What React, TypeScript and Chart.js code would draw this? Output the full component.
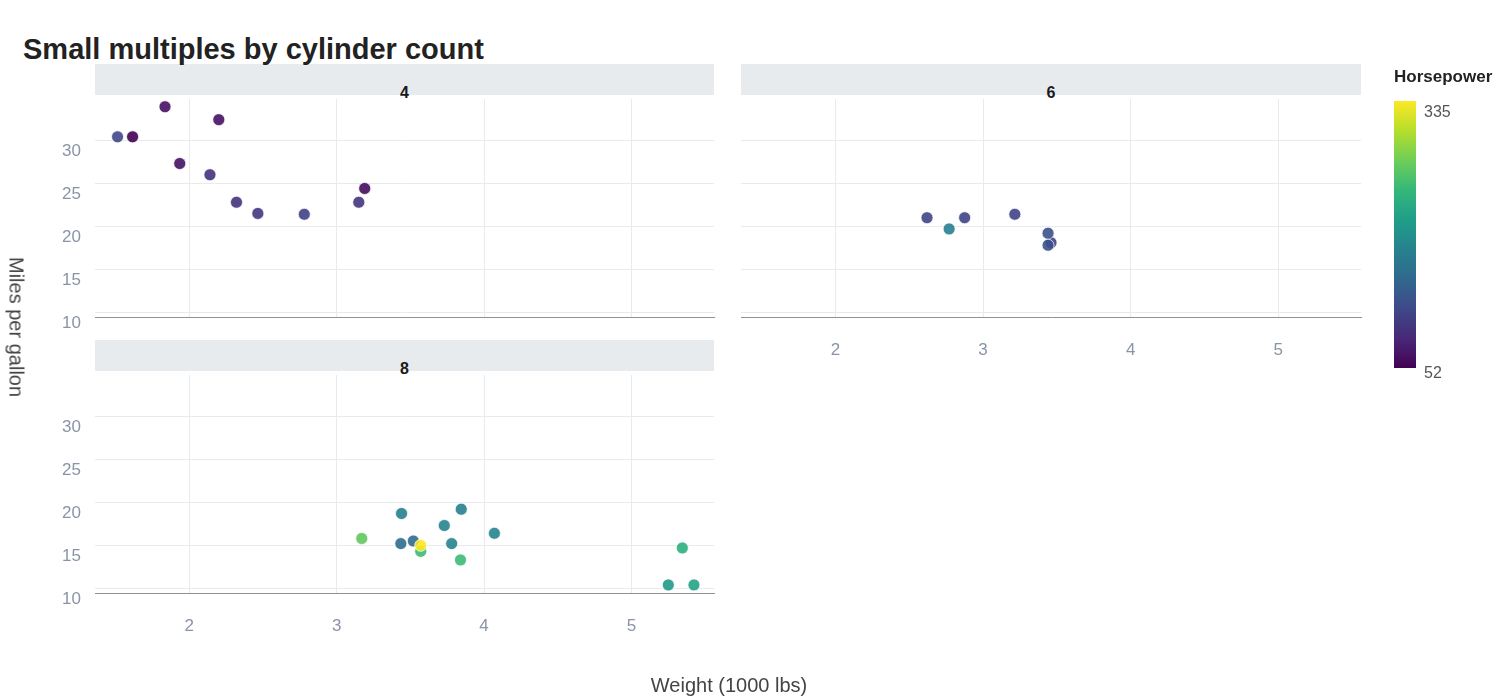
import { useEffect, useRef } from 'react';
import { Chart, registerables } from 'chart.js';

Chart.register(...registerables);

// mtcars, split by cylinder count
const wt4 = [2.32, 3.19, 3.15, 2.2, 1.615, 1.835, 2.465, 1.935, 2.14, 1.513, 2.78];
const mpg4 = [22.8, 24.4, 22.8, 32.4, 30.4, 33.9, 21.5, 27.3, 26.0, 30.4, 21.4];
const hp4 = [93, 62, 95, 66, 52, 65, 97, 66, 91, 113, 109];

const wt6 = [2.62, 2.875, 3.215, 3.46, 3.44, 3.44, 2.77];
const mpg6 = [21.0, 21.0, 21.4, 18.1, 19.2, 17.8, 19.7];
const hp6 = [110, 110, 110, 105, 123, 123, 175];

const wt8 = [3.44, 3.57, 4.07, 3.73, 3.78, 5.25, 5.424, 5.345, 3.52, 3.435, 3.84, 3.845, 3.17, 3.57];
const mpg8 = [18.7, 14.3, 16.4, 17.3, 15.2, 10.4, 10.4, 14.7, 15.5, 15.2, 13.3, 19.2, 15.8, 15.0];
const hp8 = [175, 245, 180, 180, 180, 205, 215, 230, 150, 150, 245, 175, 264, 335];

const HP_MIN = 52;
const HP_MAX = 335;

const VIRIDIS = ['#440154', '#482878', '#3e4989', '#31688e', '#26828e', '#1f9e89', '#35b779', '#6ece58', '#b5de2b', '#fde725'];

function hex(c: string) {
  return [1, 3, 5].map(i => parseInt(c.slice(i, i + 2), 16));
}

function viridis(t: number, alpha = 0.9) {
  const s = Math.max(0, Math.min(1, t)) * (VIRIDIS.length - 1);
  const i = Math.min(VIRIDIS.length - 2, Math.floor(s));
  const f = s - i;
  const a = hex(VIRIDIS[i]);
  const b = hex(VIRIDIS[i + 1]);
  const m = a.map((v, k) => Math.round(v + (b[k] - v) * f));
  return `rgba(${m[0]},${m[1]},${m[2]},${alpha})`;
}

const FONT = '"Liberation Sans", Arial, sans-serif';
const W = 1500;
const H = 700;
const Y_AXIS_W = 60;
const X_AXIS_H = 50;

type Panel = {
  wt: number[];
  mpg: number[];
  hp: number[];
  left: number;
  top: number;
  right: number;
  bottom: number;
  showX: boolean;
  showY: boolean;
};

function PanelChart(p: Panel) {
  const canvasRef = useRef<HTMLCanvasElement>(null);
  const chartRef = useRef<Chart | null>(null);

  useEffect(() => {
    if (!canvasRef.current) return;
    if (chartRef.current) chartRef.current.destroy();

    const ctx = canvasRef.current.getContext('2d')!;
    const yW = p.showY ? Y_AXIS_W : 0;

    chartRef.current = new Chart(ctx, {
      type: 'scatter',
      data: {
        datasets: [
          {
            data: p.wt.map((x, i) => ({ x, y: p.mpg[i] })),
            pointRadius: 6,
            pointBackgroundColor: p.hp.map(h => viridis((h - HP_MIN) / (HP_MAX - HP_MIN))),
            pointBorderColor: 'rgba(255,255,255,0.7)',
            pointBorderWidth: 1,
          },
        ],
      },
      options: {
        animation: false,
        responsive: false,
        events: [],
        layout: {
          padding: {
            left: p.left - yW,
            top: p.top,
            right: W - p.right,
            bottom: H - p.bottom - X_AXIS_H,
          },
        },
        plugins: { legend: { display: false }, tooltip: { enabled: false } },
        scales: {
          x: {
            type: 'linear',
            min: 1.36,
            max: 5.56,
            afterFit: (s: any) => {
              s.height = X_AXIS_H;
              s.paddingLeft = 0;
              s.paddingRight = 0;
            },
            grid: { color: '#e8ebee', drawTicks: false },
            border: { display: true, color: '#8f9295', width: 1 },
            ticks: {
              display: p.showX,
              stepSize: 1,
              includeBounds: false,
              padding: 23,
              color: '#8a94a6',
              font: { family: FONT, size: 17 },
            },
          },
          y: {
            type: 'linear',
            min: 9.46,
            max: 34.8,
            afterFit: (s: any) => {
              s.width = yW;
              s.paddingTop = 0;
              s.paddingBottom = 0;
            },
            grid: { color: '#e8ebee', drawTicks: false },
            border: { display: false },
            ticks: {
              display: p.showY,
              stepSize: 5,
              includeBounds: false,
              padding: 14,
              labelOffset: 11,
              color: '#8a94a6',
              font: { family: FONT, size: 17 },
            },
          },
        },
      },
    });

    return () => chartRef.current?.destroy();
  }, [p]);

  return (
    <canvas
      ref={canvasRef}
      width={W}
      height={H}
      style={{ position: 'absolute', left: 0, top: 0, width: W, height: H }}
    />
  );
}

const panels: (Panel & { label: string; stripTop: number })[] = [
  { label: '4', wt: wt4, mpg: mpg4, hp: hp4, left: 95, right: 714, top: 99, bottom: 317, stripTop: 64, showX: false, showY: true },
  { label: '6', wt: wt6, mpg: mpg6, hp: hp6, left: 741, right: 1361, top: 99, bottom: 317, stripTop: 64, showX: true, showY: false },
  { label: '8', wt: wt8, mpg: mpg8, hp: hp8, left: 95, right: 714, top: 375, bottom: 593, stripTop: 340, showX: true, showY: true },
];

export default function App() {
  const gradient = `linear-gradient(to top, ${VIRIDIS.join(', ')})`;
  return (
    <div
      style={{
        position: 'fixed',
        left: 0,
        top: 0,
        width: W,
        height: H,
        background: '#fff',
        fontFamily: FONT,
        overflow: 'hidden',
      }}
    >
      {panels.map(p => (
        <div
          key={'strip' + p.label}
          style={{
            position: 'absolute',
            left: p.left,
            top: p.stripTop,
            width: p.right - p.left,
            height: 31,
            background: '#e8ebee',
          }}
        >
          <div
            style={{
              position: 'absolute',
              left: 0,
              right: 0,
              top: 20,
              textAlign: 'center',
              fontSize: 16,
              fontWeight: 700,
              color: '#1a1a1a',
              lineHeight: '18px',
            }}
          >
            {p.label}
          </div>
        </div>
      ))}

      <div style={{ position: 'absolute', left: 23, top: 32, fontSize: 29, fontWeight: 700, color: '#222', lineHeight: '34px' }}>
        Small multiples by cylinder count
      </div>

      {panels.map(p => (
        <PanelChart key={'chart' + p.label} {...p} />
      ))}

      <div
        style={{
          position: 'absolute',
          left: 16,
          top: 327,
          transform: 'translate(-50%, -50%) rotate(90deg)',
          fontSize: 20,
          color: '#444',
          whiteSpace: 'nowrap',
        }}
      >
        Miles per gallon
      </div>
      <div
        style={{
          position: 'absolute',
          left: 729,
          top: 685,
          transform: 'translate(-50%, -50%)',
          fontSize: 20,
          color: '#444',
          whiteSpace: 'nowrap',
        }}
      >
        Weight (1000 lbs)
      </div>

      <div style={{ position: 'absolute', left: 1394, top: 67, fontSize: 17, fontWeight: 700, color: '#222' }}>
        Horsepower
      </div>
      <div style={{ position: 'absolute', left: 1394, top: 101, width: 22, height: 267, background: gradient }} />
      <div style={{ position: 'absolute', left: 1424, top: 103, fontSize: 16, color: '#555' }}>{HP_MAX}</div>
      <div style={{ position: 'absolute', left: 1424, top: 364, fontSize: 16, color: '#555' }}>{HP_MIN}</div>
    </div>
  );
}
